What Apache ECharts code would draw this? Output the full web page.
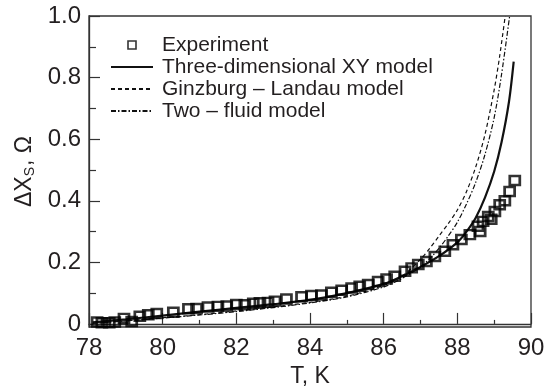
<!DOCTYPE html>
<html>
<head>
<meta charset="utf-8">
<script src="https://cdn.jsdelivr.net/npm/echarts@6/dist/echarts.min.js"></script>
<style>
html,body{margin:0;padding:0;background:#fff;}
#chart{width:554px;height:388px;}
</style>
</head>
<body>
<div id="chart"></div>
<script>
// Experimental points [T (K), ΔXs (Ω)]
const expT = [78.22,78.35,78.55,78.7,78.95,79.16,79.38,79.61,79.84,80.29,80.7,80.92,81.23,81.5,81.74,82.0,82.23,82.46,82.64,82.86,83.05,83.36,83.77,84.04,84.31,84.58,84.86,85.13,85.35,85.58,85.85,86.08,86.3,86.58,86.76,86.94,87.16,87.39,87.66,87.88,88.11,88.34,88.56,88.62,88.7,88.84,88.92,89.02,89.15,89.29,89.42,89.56];
const expV = [0.006,0.004,0.004,0.006,0.018,0.008,0.025,0.03,0.034,0.038,0.049,0.05,0.055,0.057,0.058,0.063,0.062,0.067,0.069,0.07,0.074,0.081,0.088,0.092,0.094,0.103,0.109,0.117,0.122,0.128,0.138,0.146,0.155,0.171,0.182,0.193,0.203,0.219,0.236,0.257,0.274,0.29,0.317,0.3,0.333,0.349,0.34,0.365,0.387,0.4,0.43,0.466];
// Three-dimensional XY model
const xyT = [78.1,79,80,81,82,83,84,85,86,86.5,87,87.5,88,88.25,88.5,88.75,89.0,89.2,89.4,89.53];
const xyV = [0.005,0.015,0.027,0.04,0.052,0.064,0.078,0.1,0.13,0.155,0.185,0.22,0.265,0.3,0.345,0.41,0.495,0.59,0.72,0.852];
// Ginzburg – Landau model
const glT = [78.1,79,80,81,82,83,84,85,86,86.5,87,87.25,87.5,87.75,88,88.25,88.5,88.75,89.0,89.15,89.3];
const glV = [0.002,0.01,0.02,0.03,0.042,0.055,0.07,0.09,0.125,0.155,0.21,0.245,0.285,0.325,0.37,0.43,0.51,0.615,0.76,0.87,1.0];
// Two – fluid model
const tfT = [78.1,80,82,84,85,86,86.5,87,87.25,87.5,87.75,88,88.25,88.5,88.75,89,89.2,89.42];
const tfV = [0.002,0.019,0.04,0.068,0.088,0.12,0.148,0.185,0.212,0.245,0.285,0.33,0.39,0.46,0.55,0.67,0.81,1.0];
// Axis ticks
const yTicks = [0,0.2,0.4,0.6,0.8,1.0];
const yMinorTicks = [0.1,0.3,0.5,0.7,0.9];
const names = ['Experiment','Three-dimensional XY model','Ginzburg \u2013 Landau model','Two \u2013 fluid model'];

const zip = (a,b) => a.map((v,i)=>[v,b[i]]);
const ink = '#231f20';
const font = 'Liberation Sans, Arial, Helvetica, sans-serif';

const chart = echarts.init(document.getElementById('chart'), null, {renderer:'canvas'});
chart.setOption({
  animation:false,
  backgroundColor:'#fff',
  grid:{left:89,right:23,top:16,bottom:61,outerBoundsMode:'none',containLabel:false,show:true,borderColor:'#333',borderWidth:1.3,backgroundColor:'transparent'},
  legend:{
    orient:'vertical', left:105, top:29, itemWidth:42, itemHeight:14, itemGap:0,
    textStyle:{fontFamily:font,fontSize:21,color:ink,lineHeight:22,padding:[0,0,0,4]},
    data:[
      {name:names[0], icon:'path://M0,0L0,0M42,14L42,14M17,3H25V11H17Z', itemStyle:{color:'rgba(0,0,0,0)',borderColor:'#000',borderWidth:1.6}},
      {name:names[1], itemStyle:{opacity:0}},
      {name:names[2], itemStyle:{opacity:0}},
      {name:names[3], itemStyle:{opacity:0}}
    ]
  },
  xAxis:{
    type:'value', min:78, max:90, interval:2,
    name:'T, K', nameLocation:'middle', nameGap:37,
    nameTextStyle:{fontFamily:font,fontSize:23,color:ink},
    axisLine:{lineStyle:{color:'#333',width:1.3}},
    axisTick:{inside:true,length:11,lineStyle:{color:'#333',width:1.2}},
    minorTick:{show:true,splitNumber:2,length:4,lineStyle:{color:'#333',width:1.2}},
    axisLabel:{fontFamily:font,fontSize:24,color:ink,margin:9},
    splitLine:{show:false}
  },
  yAxis:[{
    type:'value', min:-0.01, max:1.0,
    name:'{a|\u0394X}{s|S}{a|, \u03a9}', nameLocation:'middle', nameGap:50,
    nameTextStyle:{fontFamily:font,fontSize:23,color:ink,rich:{a:{fontFamily:font,fontSize:23,color:ink},s:{fontFamily:font,fontSize:14,color:ink,verticalAlign:'bottom',padding:[10,1,0,0]}}},
    axisLine:{lineStyle:{color:'#333',width:1.3}},
    axisTick:{inside:true,length:11,customValues:yTicks,lineStyle:{color:'#333',width:1.2}},
    axisLabel:{fontFamily:font,fontSize:24,color:ink,margin:8,customValues:yTicks,formatter:v=>v===0?'0':v.toFixed(1)},
    splitLine:{show:false}
  },{
    type:'value', min:-0.01, max:1.0, position:'left',
    axisLine:{show:false},
    axisTick:{inside:true,length:7,customValues:yMinorTicks,lineStyle:{color:'#333',width:1.2}},
    axisLabel:{show:false},
    splitLine:{show:false}
  }],
  series:[
    {name:names[1],type:'line',data:zip(xyT,xyV),symbol:'none',smooth:0.3,
     itemStyle:{color:'#111'},lineStyle:{color:'#111',width:2.2},z:2},
    {name:names[2],type:'line',data:zip(glT,glV),symbol:'none',smooth:0.3,
     itemStyle:{color:'#111'},lineStyle:{color:'#111',width:1.2,type:[4,3]},z:2},
    {name:names[3],type:'line',data:zip(tfT,tfV),symbol:'none',smooth:0.3,
     itemStyle:{color:'#111'},lineStyle:{color:'#111',width:1.2,type:[5,2,1.5,2]},z:2},
    {name:names[0],type:'scatter',data:zip(expT,expV),symbol:'rect',symbolSize:[10,9],
     itemStyle:{color:'rgba(0,0,0,0)',borderColor:'#000',borderWidth:2.6},z:3}
  ]
});
</script>
</body>
</html>
